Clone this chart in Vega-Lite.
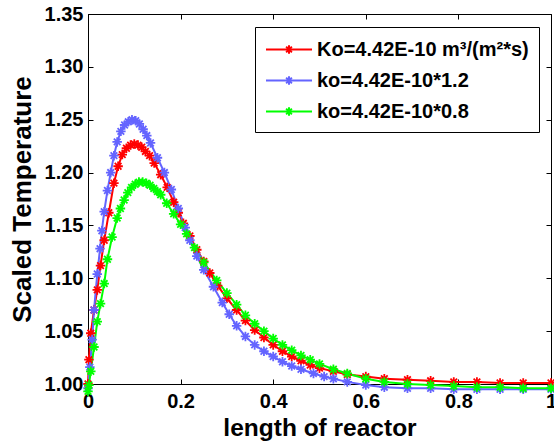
{
  "$schema": "https://vega.github.io/schema/vega-lite/v6.json",
  "autosize": {"type": "none"},
  "padding": {"left": 88, "top": 14, "right": 3, "bottom": 60},
  "width": 463,
  "height": 370,
  "background": "white",
  "config": {
    "view": {"stroke": "black", "strokeWidth": 1},
    "font": "Liberation Sans",
    "axis": {
      "labelFont": "Liberation Sans", "labelFontWeight": "bold", "labelFontSize": 20, "labelColor": "black",
      "titleFont": "Liberation Sans", "titleFontWeight": "bold", "titleFontSize": 24, "titleColor": "black",
      "grid": false, "domainColor": "black", "domainWidth": 1, "tickColor": "black", "tickWidth": 1, "tickSize": -5
    }
  },
  "data": {"values": [
    {"s":"a","x":0,"y":1.000},{"s":"a","x":0.002,"y":1.023},{"s":"a","x":0.006,"y":1.048},{"s":"a","x":0.013,"y":1.070},{"s":"a","x":0.020,"y":1.089},{"s":"a","x":0.027,"y":1.112},{"s":"a","x":0.035,"y":1.136},{"s":"a","x":0.045,"y":1.162},{"s":"a","x":0.056,"y":1.190},{"s":"a","x":0.065,"y":1.206},{"s":"a","x":0.074,"y":1.217},{"s":"a","x":0.083,"y":1.223},{"s":"a","x":0.092,"y":1.226},{"s":"a","x":0.100,"y":1.227},{"s":"a","x":0.108,"y":1.226},{"s":"a","x":0.116,"y":1.224},{"s":"a","x":0.124,"y":1.220},{"s":"a","x":0.133,"y":1.216},{"s":"a","x":0.143,"y":1.209},{"s":"a","x":0.157,"y":1.198},{"s":"a","x":0.171,"y":1.186},{"s":"a","x":0.185,"y":1.172},{"s":"a","x":0.195,"y":1.162},{"s":"a","x":0.206,"y":1.152},{"s":"a","x":0.220,"y":1.140},{"s":"a","x":0.235,"y":1.127},{"s":"a","x":0.250,"y":1.116},{"s":"a","x":0.263,"y":1.105},{"s":"a","x":0.280,"y":1.093},{"s":"a","x":0.300,"y":1.081},{"s":"a","x":0.321,"y":1.070},{"s":"a","x":0.340,"y":1.060},{"s":"a","x":0.360,"y":1.051},{"s":"a","x":0.380,"y":1.044},{"s":"a","x":0.400,"y":1.037},{"s":"a","x":0.420,"y":1.031},{"s":"a","x":0.440,"y":1.026},{"s":"a","x":0.460,"y":1.022},{"s":"a","x":0.480,"y":1.018},{"s":"a","x":0.500,"y":1.015},{"s":"a","x":0.530,"y":1.012},{"s":"a","x":0.560,"y":1.009},{"s":"a","x":0.600,"y":1.007},{"s":"a","x":0.640,"y":1.005},{"s":"a","x":0.690,"y":1.004},{"s":"a","x":0.740,"y":1.003},{"s":"a","x":0.790,"y":1.002},{"s":"a","x":0.840,"y":1.002},{"s":"a","x":0.890,"y":1.001},{"s":"a","x":0.940,"y":1.001},{"s":"a","x":1.000,"y":1.001},
    {"s":"b","x":0,"y":0.996},{"s":"b","x":0.004,"y":1.016},{"s":"b","x":0.009,"y":1.042},{"s":"b","x":0.013,"y":1.070},{"s":"b","x":0.020,"y":1.104},{"s":"b","x":0.026,"y":1.128},{"s":"b","x":0.030,"y":1.145},{"s":"b","x":0.035,"y":1.163},{"s":"b","x":0.042,"y":1.183},{"s":"b","x":0.049,"y":1.200},{"s":"b","x":0.056,"y":1.216},{"s":"b","x":0.063,"y":1.229},{"s":"b","x":0.071,"y":1.239},{"s":"b","x":0.079,"y":1.245},{"s":"b","x":0.087,"y":1.248},{"s":"b","x":0.095,"y":1.250},{"s":"b","x":0.103,"y":1.249},{"s":"b","x":0.111,"y":1.246},{"s":"b","x":0.119,"y":1.241},{"s":"b","x":0.127,"y":1.235},{"s":"b","x":0.135,"y":1.228},{"s":"b","x":0.150,"y":1.214},{"s":"b","x":0.165,"y":1.200},{"s":"b","x":0.180,"y":1.184},{"s":"b","x":0.195,"y":1.166},{"s":"b","x":0.210,"y":1.148},{"s":"b","x":0.220,"y":1.136},{"s":"b","x":0.235,"y":1.121},{"s":"b","x":0.250,"y":1.108},{"s":"b","x":0.271,"y":1.092},{"s":"b","x":0.290,"y":1.077},{"s":"b","x":0.305,"y":1.066},{"s":"b","x":0.321,"y":1.055},{"s":"b","x":0.340,"y":1.045},{"s":"b","x":0.360,"y":1.037},{"s":"b","x":0.380,"y":1.031},{"s":"b","x":0.400,"y":1.026},{"s":"b","x":0.420,"y":1.021},{"s":"b","x":0.440,"y":1.017},{"s":"b","x":0.460,"y":1.014},{"s":"b","x":0.487,"y":1.010},{"s":"b","x":0.510,"y":1.007},{"s":"b","x":0.530,"y":1.005},{"s":"b","x":0.560,"y":1.002},{"s":"b","x":0.600,"y":0.999},{"s":"b","x":0.640,"y":0.997},{"s":"b","x":0.690,"y":0.996},{"s":"b","x":0.740,"y":0.996},{"s":"b","x":0.790,"y":0.995},{"s":"b","x":0.840,"y":0.995},{"s":"b","x":0.890,"y":0.995},{"s":"b","x":0.940,"y":0.995},{"s":"b","x":1.000,"y":0.995},
    {"s":"c","x":0,"y":0.993},{"s":"c","x":0.002,"y":0.999},{"s":"c","x":0.006,"y":1.012},{"s":"c","x":0.013,"y":1.035},{"s":"c","x":0.020,"y":1.059},{"s":"c","x":0.027,"y":1.076},{"s":"c","x":0.035,"y":1.095},{"s":"c","x":0.042,"y":1.118},{"s":"c","x":0.052,"y":1.139},{"s":"c","x":0.063,"y":1.157},{"s":"c","x":0.070,"y":1.166},{"s":"c","x":0.078,"y":1.174},{"s":"c","x":0.086,"y":1.181},{"s":"c","x":0.094,"y":1.186},{"s":"c","x":0.102,"y":1.189},{"s":"c","x":0.110,"y":1.191},{"s":"c","x":0.118,"y":1.191},{"s":"c","x":0.126,"y":1.190},{"s":"c","x":0.134,"y":1.188},{"s":"c","x":0.142,"y":1.185},{"s":"c","x":0.150,"y":1.182},{"s":"c","x":0.157,"y":1.179},{"s":"c","x":0.170,"y":1.171},{"s":"c","x":0.185,"y":1.161},{"s":"c","x":0.200,"y":1.151},{"s":"c","x":0.213,"y":1.142},{"s":"c","x":0.230,"y":1.129},{"s":"c","x":0.250,"y":1.115},{"s":"c","x":0.278,"y":1.098},{"s":"c","x":0.300,"y":1.086},{"s":"c","x":0.321,"y":1.075},{"s":"c","x":0.340,"y":1.065},{"s":"c","x":0.360,"y":1.057},{"s":"c","x":0.380,"y":1.050},{"s":"c","x":0.400,"y":1.043},{"s":"c","x":0.420,"y":1.037},{"s":"c","x":0.440,"y":1.032},{"s":"c","x":0.460,"y":1.027},{"s":"c","x":0.480,"y":1.023},{"s":"c","x":0.500,"y":1.019},{"s":"c","x":0.530,"y":1.014},{"s":"c","x":0.560,"y":1.010},{"s":"c","x":0.600,"y":1.005},{"s":"c","x":0.640,"y":1.002},{"s":"c","x":0.690,"y":1.000},{"s":"c","x":0.740,"y":0.999},{"s":"c","x":0.790,"y":0.998},{"s":"c","x":0.840,"y":0.997},{"s":"c","x":0.890,"y":0.997},{"s":"c","x":0.940,"y":0.996},{"s":"c","x":1.000,"y":0.996}
  ]},
  "layer": [
    {
      "mark": {"type": "line", "strokeWidth": 2, "clip": false},
      "encoding": {
        "x": {"field": "x", "type": "quantitative", "scale": {"domain": [0, 1], "nice": false, "zero": false},
              "axis": {"orient": "bottom", "values": [0, 0.2, 0.4, 0.6, 0.8, 1], "format": "~g", "labelPadding": 12, "title": "length of reactor", "titleFontSize": 24.5, "titlePadding": 5, "labelFlush": false}},
        "y": {"field": "y", "type": "quantitative", "scale": {"domain": [1, 1.35], "nice": false, "zero": false},
              "axis": {"orient": "left", "values": [1, 1.05, 1.1, 1.15, 1.2, 1.25, 1.3, 1.35], "format": ".2f", "labelPadding": 10, "title": "Scaled Temperature", "titleFontSize": 26, "titlePadding": 9, "labelFlush": false}},
        "color": {"field": "s", "type": "nominal",
                  "scale": {"domain": ["a", "b", "c"], "range": ["#ff0000", "#6464ff", "#00ff00"]},
                  "legend": {
                    "orient": "none", "legendX": 167, "legendY": 13, "title": null,
                    "labelExpr": "datum.label == 'a' ? 'Ko=4.42E-10 m³/(m²*s)' : (datum.label == 'b' ? 'ko=4.42E-10*1.2' : 'ko=4.42E-10*0.8')",
                    "symbolType": "M-1,0L3,0M1,-0.36L1,0.36M0.64,0L1.36,0M0.75,-0.25L1.25,0.25M0.75,0.25L1.25,-0.25",
                    "symbolSize": 529, "symbolStrokeWidth": 2, "symbolFillColor": "transparent",
                    "labelFont": "Liberation Sans", "labelFontWeight": "bold", "labelFontSize": 20, "labelColor": "black",
                    "labelLimit": 400, "labelOffset": 27, "rowPadding": 8,
                    "strokeColor": "black", "fillColor": "white", "padding": 10
                  }}
      }
    },
    {
      "mark": {"type": "point", "shape": "M-1,0L1,0M0,-1L0,1M-0.7,-0.7L0.7,0.7M-0.7,0.7L0.7,-0.7", "filled": false, "size": 90, "strokeWidth": 1.8, "opacity": 1, "clip": false},
      "encoding": {
        "x": {"field": "x", "type": "quantitative", "axis": {"orient": "top", "values": [0, 0.2, 0.4, 0.6, 0.8, 1], "labels": false, "title": null, "domain": false}},
        "y": {"field": "y", "type": "quantitative", "axis": {"orient": "right", "values": [1, 1.05, 1.1, 1.15, 1.2, 1.25, 1.3, 1.35], "labels": false, "title": null, "domain": false}},
        "color": {"field": "s", "type": "nominal", "legend": null}
      }
    }
  ],
  "resolve": {"axis": {"x": "independent", "y": "independent"}}
}
